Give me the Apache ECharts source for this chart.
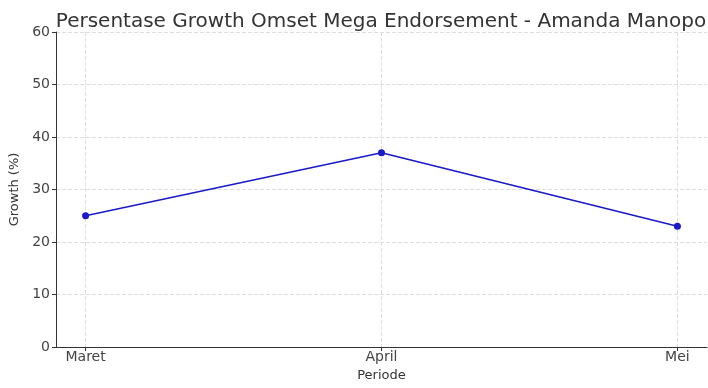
<!DOCTYPE html>
<html><head><meta charset="utf-8">
<script src="https://cdn.jsdelivr.net/npm/echarts@6/dist/echarts.min.js"></script>
<style>html,body{margin:0;padding:0;background:#fff}#c{width:708px;height:388px}</style>
</head><body><div id="c"></div>
<script>
const categories = ['Maret', 'April', 'Mei'];
const growth = [25, 37, 23];
const yTicks = [0, 10, 20, 30, 40, 50, 60];
const titleText = 'Persentase Growth Omset Mega Endorsement - Amanda Manopo';

const chart = echarts.init(document.getElementById('c'));
const idx = categories.map((_, i) => i);
const font = 'DejaVu Sans';
chart.setOption({
  animation: false,
  title: {text: titleText, left: 376, textAlign: 'center', top: 7,
    textStyle: {fontFamily: font, fontSize: 20, fontWeight: 'normal', color: '#333'}},
  grid: {left: 56, right: 1, top: 32, bottom: 41, outerBoundsMode: 'none', containLabel: false},
  xAxis: {
    type: 'value', min: -0.1, max: categories.length - 0.9,
    name: 'Periode', nameLocation: 'middle', nameGap: 19,
    nameTextStyle: {fontFamily: font, fontSize: 13, color: '#333'},
    axisLine: {show: true, onZero: false, lineStyle: {color: '#333', width: 1}},
    axisTick: {show: true, customValues: idx, length: 4, lineStyle: {color: '#333'}},
    axisLabel: {customValues: idx, formatter: v => categories[Math.round(v)] || '',
      fontFamily: font, fontSize: 14, color: '#444', margin: 3},
    splitLine: {show: true, customValues: idx, lineStyle: {color: '#ddd', type: 'dashed'}}
  },
  yAxis: {
    type: 'value', min: yTicks[0], max: yTicks[yTicks.length - 1], interval: 10,
    name: 'Growth (%)', nameLocation: 'middle', nameGap: 33,
    nameTextStyle: {fontFamily: font, fontSize: 13, color: '#333'},
    axisLine: {show: true, onZero: false, lineStyle: {color: '#333', width: 1}},
    axisTick: {show: true, length: 4, lineStyle: {color: '#333'}},
    axisLabel: {fontFamily: font, fontSize: 14, color: '#444', margin: 6},
    splitLine: {show: true, lineStyle: {color: '#ddd', type: 'dashed'}}
  },
  series: [{
    type: 'line', data: growth.map((v, i) => [i, v]),
    lineStyle: {color: '#1a1acc', width: 1.6},
    itemStyle: {color: '#1a1acc'},
    symbol: 'circle', symbolSize: 7
  }]
});
</script></body></html>
